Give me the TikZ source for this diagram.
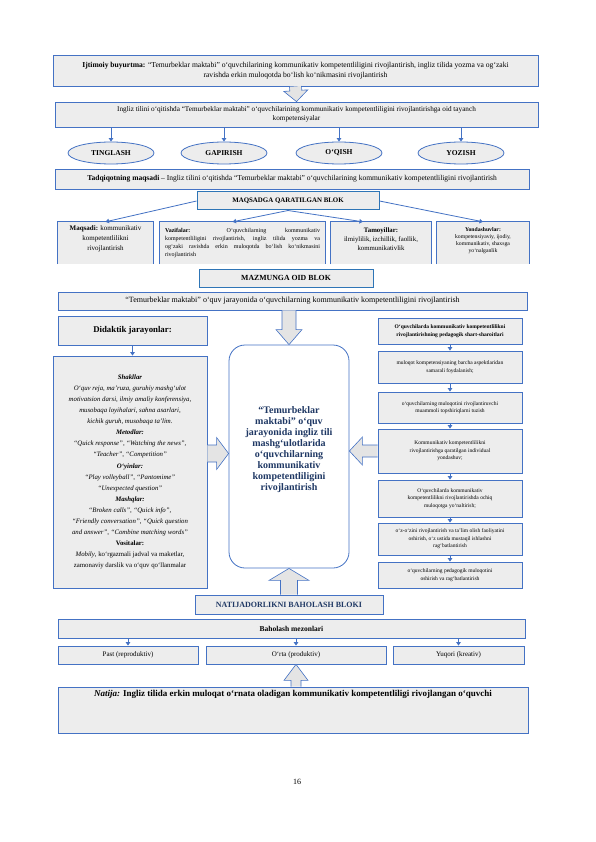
\documentclass[tikz,border=0pt]{standalone}
\usepackage{fontspec}
\setmainfont{Liberation Serif}
\usetikzlibrary{calc,arrows.meta,shapes.geometric}
\definecolor{bblue}{HTML}{4472C4}
\definecolor{dblue}{HTML}{2E75B6}
\definecolor{bgray}{HTML}{EDEDED}
\definecolor{agray}{HTML}{E4E4E4}
\definecolor{navy}{HTML}{1F3864}
\newcommand\fs[2]{\fontsize{#1}{#2}\selectfont}
\newcommand\hollowarr[5]{%
  \coordinate (hh) at ($(#2)!#5!(#1)$);
  \draw[hollow] ($(#1)!#3!90:(#2)$) -- ($(hh)!#3!90:(#2)$) -- ($(hh)!#4!90:(#2)$) -- (#2)
     -- ($(hh)!#4!-90:(#2)$) -- ($(hh)!#3!-90:(#2)$) -- ($(#1)!#3!-90:(#2)$);}
\begin{document}
\begin{tikzpicture}[x=1pt,y=-1pt,
  box/.style n args={2}{draw=bblue, fill=bgray, line width=0.8pt, inner sep=2pt,
     minimum width=#1, minimum height=#2, align=center},
  rowb/.style n args={2}{fill=bgray, inner sep=2pt, minimum width=#1, minimum height=#2},
  ell/.style={ellipse, draw=bblue, fill=bgray, line width=0.8pt, inner sep=0pt,
     minimum width=86pt, minimum height=22pt, font=\bfseries\fs{7.5}{8}},
  sarr/.style={draw=bblue, line width=0.8pt, -{Triangle[width=4.5pt,length=3.5pt]}},
  hollow/.style={draw=bblue, fill=agray, line width=0.6pt, line join=miter},
  rc/.style={box={144pt}{#1}, font=\fs{5.5}{7.5}},
]
\useasboundingbox[fill=white] (0,0) rectangle (595,842);

% top
\node[box={485pt}{31pt}, font=\fs{7.6}{10}] (soc) at (295.5,70.5)
  {\textbf{Ijtimoiy buyurtma:} “Temurbeklar maktabi” o‘quvchilarining kommunikativ kompetentliligini rivojlantirish, ingliz tilida yozma va og‘zaki\\ ravishda erkin muloqotda bo‘lish ko‘nikmasini rivojlantirish};
\node[box={483pt}{25pt}, font=\fs{7.2}{9.5}] (tay) at (296.5,114.5)
  {Ingliz tilini o‘qitishda “Temurbeklar maktabi” o‘quvchilarining kommunikativ kompetentliligini rivojlantirishga oid tayanch\\ kompetensiyalar};
\hollowarr{soc.south}{tay.north}{6pt}{12pt}{11pt}

\node[ell] (e1) at (111,153) {TINGLASH};
\node[ell] (e2) at (224,153) {GAPIRISH};
\node[ell] (e3) at (339,153) {O‘QISH};
\node[ell] (e4) at (461,153) {YOZISH};
\foreach \e in {e1,e2,e3,e4} \draw[sarr] (tay.south -| \e.north) -- (\e.north);

\node[box={474pt}{20pt}, font=\fs{7.5}{9}] (tad) at (292,179)
  {\textbf{Tadqiqotning maqsadi} – Ingliz tilini o‘qitishda “Temurbeklar maktabi” o‘quvchilarining kommunikativ kompetentliligini rivojlantirish};
\node[box={182pt}{18pt}, draw=dblue, line width=1pt, font=\bfseries\fs{6.9}{8}] (maq) at (288,201) {MAQSADGA QARATILGAN BLOK};

% row of four
\node[rowb={95pt}{42pt}] (mqs) at (105.5,243)
  {\parbox[c][38pt][t]{89pt}{\centering\fs{7}{10}\vspace{2pt}\textbf{Maqsadi:} kommunikativ\\ kompetentlilikni\\ rivojlantirish}};
\node[rowb={165pt}{42pt}] (vaz) at (242.5,243)
  {\parbox[c][38pt][t]{155pt}{\fs{6}{8}\vspace{4pt}\textbf{Vazifalar:} O‘quvchilarning kommunikativ\linebreak kompetentliligini rivojlantirish, ingliz tilida yozma va\linebreak og‘zaki ravishda erkin muloqotda bo‘lish ko‘nikmasini\linebreak rivojlantirish}};
\node[rowb={100pt}{42pt}] (tam) at (381,243)
  {\parbox[c][38pt][t]{94pt}{\centering\fs{6.8}{9}\vspace{4pt}\textbf{Tamoyillar:}\\ ilmiylilik, izchillik, faollik,\\ kommunikativlik}};
\node[rowb={92pt}{42pt}] (yon) at (483,243)
  {\parbox[c][38pt][t]{86pt}{\centering\fs{5.7}{7}\vspace{4pt}\textbf{Yondashuvlar:}\\ kompetensiyaviy, ijodiy,\\ kommunikativ, shaxsga\\ yo‘nalganlik}};
\foreach \n in {mqs,vaz,tam,yon}
  \draw[bblue, line width=0.8pt] (\n.south west) -- (\n.north west) -- (\n.north east) -- (\n.south east);
\coordinate (vazt) at ($(vaz.north west)!0.44!(vaz.north east)$);
\coordinate (tamt) at ($(tam.north west)!0.32!(tam.north east)$);
\draw[sarr] (maq.west) -- (mqs.north);
\draw[sarr] (maq.south) -- (vazt);
\draw[sarr] (maq.south) -- (tamt);
\draw[sarr] (maq.east) -- (yon.north);

\node[box={174pt}{18pt}, draw=dblue, line width=1pt, font=\bfseries\fs{7.8}{8}] (maz) at (286,278) {MAZMUNGA OID BLOK};
\node[box={469pt}{18pt}, font=\fs{8}{9}] (tmb) at (292.5,301)
  {“Temurbeklar maktabi” o‘quv jarayonida o‘quvchilarning kommunikativ kompetentliligini rivojlantirish};

% left column
\node[box={149pt}{29pt}, font=\bfseries\fs{8.8}{9}] (did) at (132.5,330.5) {Didaktik jarayonlar:};
\node[box={154pt}{232pt}, font=\fs{6.8}{11.1}] (shk) at (130,472)
  {\textbf{\textit{Shakllar}}\\
   \textit{O‘quv reja, ma’ruza, guruhiy mashg‘ulot}\\
   \textit{motivatsion darsi, ilmiy amaliy konferensiya,}\\
   \textit{musobaqa loyihalari, sahna asarlari,}\\
   \textit{kichik guruh, musobaqa ta’lim.}\\
   \textbf{\textit{Metodlar:}}\\
   \textit{“Quick response”, “Watching the news”,}\\
   \textit{“Teacher”, “Competition”}\\
   \textbf{\textit{O‘yinlar:}}\\
   \textit{“Play volleyball”, “Pantomime”}\\
   \textit{“Unexpected question”}\\
   \textbf{\textit{Mashqlar:}}\\
   \textit{“Broken calls”, “Quick info”,}\\
   \textit{“Friendly conversation”, “Quick question}\\
   \textit{and answer”, “Combine matching words”}\\
   \textbf{Vositalar:}\\
   \textit{Mobily}, ko‘rgazmali jadval va maketlar,\\
   zamonaviy darslik va o‘quv qo‘llanmalar};
\draw[sarr] (did.south) -- (did.south |- shk.north);

% centre
\node[draw=bblue, line width=0.8pt, fill=white, rounded corners=16pt, minimum width=120pt,
  minimum height=223pt, align=center, text=navy, font=\bfseries\fs{10}{11}] (rnd) at (289,456.5)
  {“Temurbeklar\\ maktabi” o‘quv\\ jarayonida ingliz tili\\ mashg‘ulotlarida\\ o‘quvchilarning\\ kommunikativ\\ kompetentliligini\\ rivojlantirish\\[5pt]\mbox{}};

% right column
\node[rc={26pt}, font=\bfseries\fs{5.5}{7.5}] (r1) at (450,331)
  {O‘quvchilarda kommunikativ kompetentlilikni\\ rivojlantirishning pedagogik shart-sharoitlari};
\node[rc={32pt}] (r2) at (450,367) {muloqot kompetensiyaning barcha aspektlaridan\\ samarali foydalanish;};
\node[rc={31pt}] (r3) at (450,407.5) {o‘quvchilarning muloqotini rivojlantiruvchi\\ muammoli topshiriqlarni tuzish};
\node[rc={44pt}] (r4) at (450,451) {Kommunikativ kompetentlilikni\\ rivojlantirishga qaratilgan individual\\ yondashuv;};
\node[rc={37pt}] (r5) at (450,498.5) {O‘quvchilarda kommunikativ\\ kompetentlilikni rivojlantirishda ochiq\\ muloqotga yo‘naltirish;};
\node[rc={32pt}] (r6) at (450,539) {o‘z-o‘zini rivojlantirish va ta’lim olish faoliyatini\\ oshirish, o‘z ustida mustaqil ishlashni\\ rag‘batlantirish};
\node[rc={26pt}] (r7) at (450,575) {o‘quvchilarning pedagogik muloqotini\\ oshirish va rag‘batlantirish};
\foreach \a/\b in {r1/r2,r2/r3,r3/r4,r4/r5,r5/r6,r6/r7} \draw[sarr] (\a.south) -- (\b.north);

% bottom
\node[box={188pt}{19pt}, line width=1pt, text=navy, font=\bfseries\fs{8}{8}] (nat) at (289,604.5) {NATIJADORLIKNI BAHOLASH BLOKI};
\node[box={467pt}{19pt}, font=\bfseries\fs{7.5}{8}] (mez) at (291.5,628.5) {Baholash mezonlari};
\node[box={140pt}{18pt}, font=\fs{7}{8}] (past) at (128,655) {Past (reproduktiv)};
\node[box={180pt}{18pt}, font=\fs{7}{8}] (ort) at (296,655) {O‘rta (produktiv)};
\node[box={131pt}{18pt}, font=\fs{7}{8}] (yuq) at (458.5,655) {Yuqori (kreativ)};
\foreach \n in {past,ort,yuq} \draw[sarr] (mez.south -| \n.north) -- (\n.north);
\node[box={470pt}{46pt}] (res) at (293,710)
  {\parbox[c][42pt][t]{460pt}{\centering\fs{9}{11}\vspace{1pt}\textbf{\textit{Natija:} Ingliz tilida erkin muloqat o‘rnata oladigan kommunikativ kompetentliligi rivojlangan o‘quvchi}}};

% hollow arrows
\coordinate (a2s) at (tmb.south -| rnd.north);
\hollowarr{a2s}{rnd.north}{7pt}{13pt}{15pt}
\coordinate (a3e) at ($(rnd.west)+(0,-3)$);
\coordinate (a3s) at (shk.east |- a3e);
\hollowarr{a3s}{a3e}{8.5pt}{16pt}{12pt}
\coordinate (a4e) at (rnd.east |- r4.west);
\hollowarr{r4.west}{a4e}{6pt}{14pt}{13pt}
\coordinate (a5s) at (nat.north -| rnd.south);
\hollowarr{a5s}{rnd.south}{8.5pt}{20pt}{12pt}
\coordinate (a6s) at (res.north -| ort.south);
\hollowarr{a6s}{ort.south}{5pt}{12pt}{16pt}

\node[font=\fs{8}{9}] (pg) at (297,782) {16};
\end{tikzpicture}
\end{document}
